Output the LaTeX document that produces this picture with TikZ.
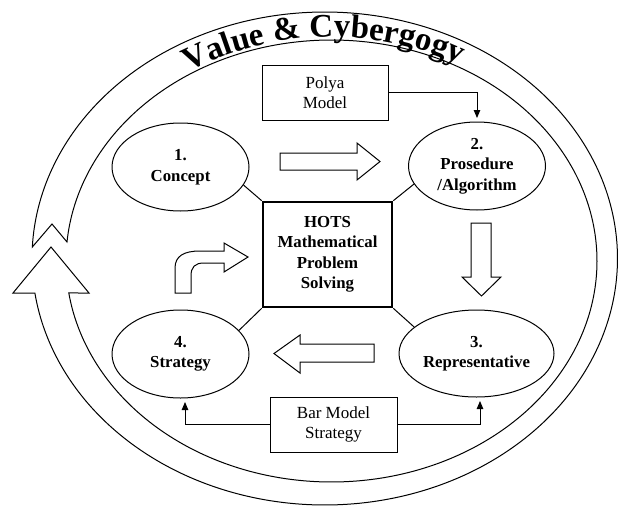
\documentclass[tikz,border=0pt]{standalone}
\usepackage{fontspec}
\setmainfont{Liberation Serif}
\usetikzlibrary{shapes.geometric,arrows.meta,decorations.text}
\begin{document}
\begin{tikzpicture}[x=1pt,y=-1pt,
  lbl/.style={font=\bfseries\fontsize{16.8}{20.5}\selectfont, align=center},
  oval/.style={draw, ellipse, line width=1pt, minimum width=137pt, minimum height=88pt, inner sep=0pt, lbl},
  plainbox/.style={draw, line width=0.9pt, font=\fontsize{17}{20}\selectfont, align=center, minimum width=126pt, minimum height=55pt, inner sep=0pt},
  hollow/.style={draw, line width=1pt, fill=white, line join=miter},
  link/.style={line width=1pt},
  tiparrow/.style={line width=0.9pt, -{Triangle[width=6.5pt,length=8pt]}, shorten >=3.5pt}]
\useasboundingbox (0,0) rectangle (618,506);
\fill[white] (0,0) rectangle (618,506);
% circular band arrow
\draw[hollow]
  plot[domain=182.674:531.955, samples=300] ({324.75+292.75*cos(\x)},{258.5+246.5*sin(\x)})
  -- (13,293) -- (51,247) -- (89,293)
  -- plot[domain=531.675:184.93, samples=300] ({331.5+265.5*cos(\x)},{261+221*sin(\x)})
  -- (52,224) -- cycle;
% band title
\path[decorate, decoration={text along path, text align=center,
  text={|\bfseries\fontsize{33}{33}\selectfont|Value {\&} Cybergogy}}]
  plot[domain=198:338, samples=150] ({331.5+268.5*cos(\x)},{261+224*sin(\x)});
% ellipses
\node[oval] (e1) at (180.5,167) {1.\\Concept};
\node[oval] (e2) at (477,166) {2.\\Prosedure\\/Algorithm};
\node[oval, minimum width=155pt, minimum height=87pt] (e3) at (476.5,353.5) {3.\\Representative};
\node[oval] (e4) at (180.5,354) {4.\\Strategy};
% centre box
\node[draw, line width=2.6pt, minimum width=129pt, minimum height=105pt, inner sep=0pt, lbl] (hots) at (327.5,254.5) {HOTS\\Mathematical\\Problem\\Solving};
% connectors
\draw[link] (hots.north west) -- (e1.-16);
\draw[link] (hots.north east) -- (e2.196);
\draw[link] (hots.south west) -- (e4.22);
\draw[link] (hots.south east) -- (e3.157);
% side boxes
\node[plainbox] (polya) at (325,92.5) {Polya\\Model};
\node[plainbox, minimum width=127pt] (bar) at (333.5,424.5) {Bar Model\\Strategy};
\draw[tiparrow] (polya.east) -| (e2.north);
\draw[tiparrow] (bar.west) -| ([xshift=4.5pt]e4.south);
\draw[tiparrow] (bar.east) -| ([xshift=3.5pt]e3.south);
% hollow block arrows
\draw[hollow] (280,153) -- (357,153) -- (357,143) -- (380,161.5) -- (357,180) -- (357,170) -- (280,170) -- cycle;
\draw[hollow] (471,223) -- (491,223) -- (491,277) -- (501,277) -- (481.5,296) -- (462,277) -- (471,277) -- cycle;
\draw[hollow] (374,344) -- (300,344) -- (300,335) -- (274,353.5) -- (300,373) -- (300,362) -- (374,362) -- cycle;
\draw[hollow] (175,293) -- (175,268) .. controls (175,256) and (184,251) .. (200,251) -- (224,251) -- (224,243) -- (248,257) -- (224,272) -- (224,263) -- (204,263) .. controls (195,263) and (191,267) .. (191,276) -- (191,293) -- cycle;
\end{tikzpicture}
\end{document}
